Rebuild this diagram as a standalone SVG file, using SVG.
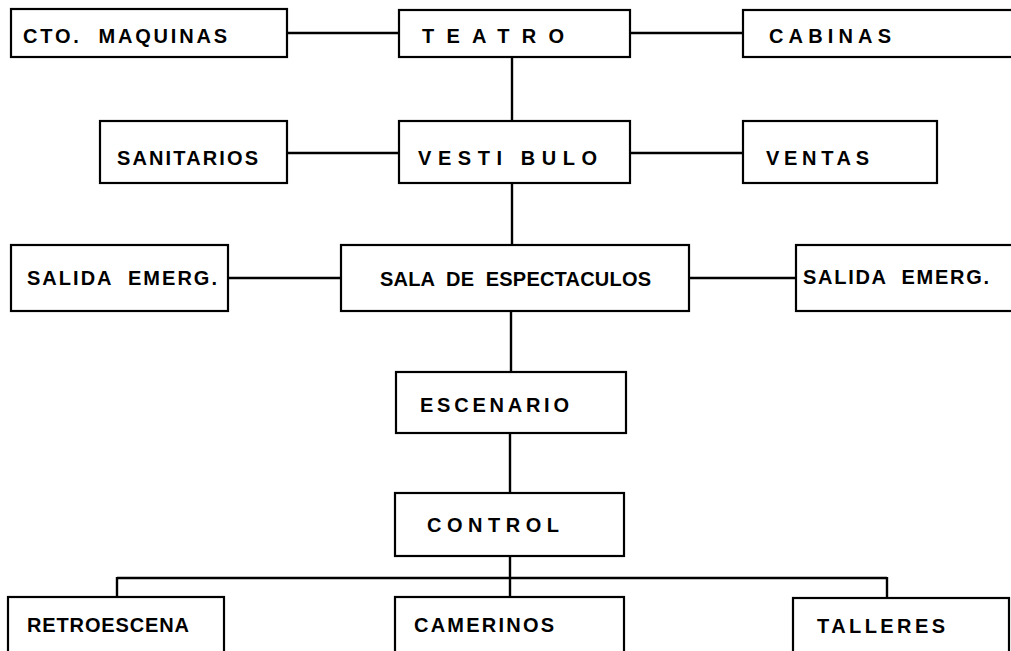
<svg xmlns="http://www.w3.org/2000/svg" width="1011" height="651" viewBox="0 0 1011 651">
<style>
.box{fill:#fff;stroke:#000;stroke-width:2.2}
.lbl{font-family:"Liberation Sans",Arial,sans-serif;font-weight:bold;font-size:20px;fill:#000;white-space:pre}
.con{fill:none;stroke:#000;stroke-width:2.4}
</style>
<rect width="1011" height="651" fill="#fff"/>
<g id="connectors" class="con">
<path d="M287 33H399M630 33H743"/>
<path d="M512 57V121"/>
<path d="M287 153H399M630 153H743"/>
<path d="M512 183V245"/>
<path d="M228 278H341M689 278H796"/>
<path d="M511 311V372"/>
<path d="M510 433V493"/>
<path d="M510 556V597M117 578H887M117 577V597M887 577V598"/>
</g>
<g id="cto-maquinas"><rect class="box" x="11" y="9" width="276" height="48"/><text class="lbl" x="23" y="43" textLength="204" lengthAdjust="spacing">CTO.  MAQUINAS</text></g>
<g id="teatro"><rect class="box" x="399" y="10" width="231" height="47"/><text class="lbl" x="422" y="43" textLength="142" lengthAdjust="spacing">TEATRO</text></g>
<g id="cabinas"><rect class="box" x="743" y="10" width="280" height="47"/><text class="lbl" x="769" y="43" textLength="122" lengthAdjust="spacing">CABINAS</text></g>
<g id="sanitarios"><rect class="box" x="100" y="121" width="187" height="62"/><text class="lbl" x="117" y="165" textLength="141" lengthAdjust="spacing">SANITARIOS</text></g>
<g id="vestibulo"><rect class="box" x="399" y="121" width="231" height="62"/><text class="lbl" x="418" y="165" textLength="179" lengthAdjust="spacing">VESTI BULO</text></g>
<g id="ventas"><rect class="box" x="743" y="121" width="194" height="62"/><text class="lbl" x="766" y="165" textLength="103" lengthAdjust="spacing">VENTAS</text></g>
<g id="salida-emerg-izq"><rect class="box" x="11" y="245" width="217" height="66"/><text class="lbl" x="27" y="285" textLength="190" lengthAdjust="spacing">SALIDA  EMERG.</text></g>
<g id="sala-espectaculos"><rect class="box" x="341" y="245" width="348" height="66"/><text class="lbl" x="380" y="286" textLength="271" lengthAdjust="spacing">SALA  DE  ESPECTACULOS</text></g>
<g id="salida-emerg-der"><rect class="box" x="796" y="245" width="230" height="66"/><text class="lbl" x="803" y="284" textLength="186" lengthAdjust="spacing">SALIDA  EMERG.</text></g>
<g id="escenario"><rect class="box" x="396" y="372" width="230" height="61"/><text class="lbl" x="420" y="412" textLength="149" lengthAdjust="spacing">ESCENARIO</text></g>
<g id="control"><rect class="box" x="395" y="493" width="229" height="63"/><text class="lbl" x="427" y="532" textLength="132" lengthAdjust="spacing">CONTROL</text></g>
<g id="retroescena"><rect class="box" x="8" y="597" width="216" height="60"/><text class="lbl" x="27" y="632" textLength="162" lengthAdjust="spacing">RETROESCENA</text></g>
<g id="camerinos"><rect class="box" x="395" y="597" width="229" height="60"/><text class="lbl" x="414" y="632" textLength="140" lengthAdjust="spacing">CAMERINOS</text></g>
<g id="talleres"><rect class="box" x="793" y="598" width="216" height="59"/><text class="lbl" x="817" y="633" textLength="128" lengthAdjust="spacing">TALLERES</text></g>
</svg>
